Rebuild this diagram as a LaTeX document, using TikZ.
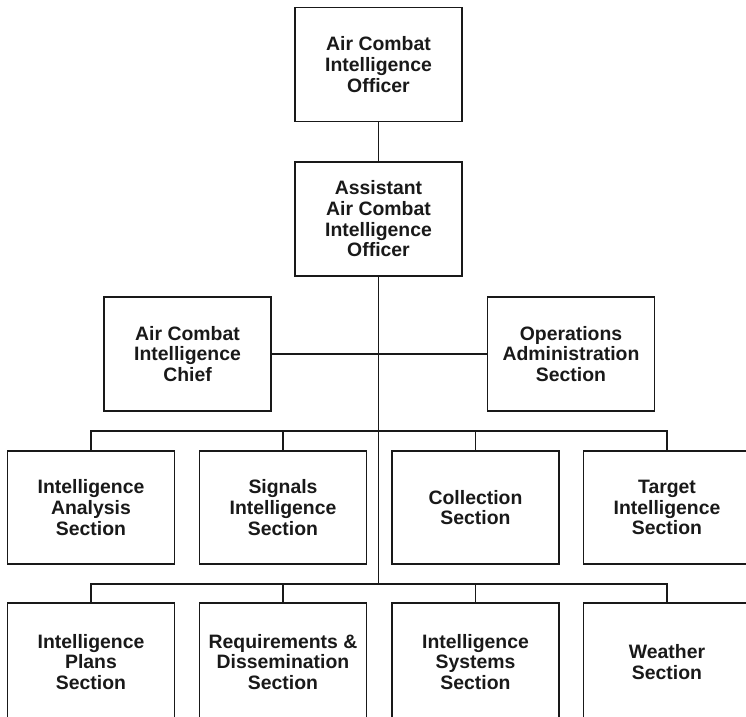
\documentclass[tikz,border=0pt]{standalone}
\usepackage{fontspec}
\setmainfont{Liberation Sans}
\begin{document}
\begin{tikzpicture}[x=1pt,y=-1pt,
  box/.style={draw=black!90, line width=1.7pt, fill=white, minimum width=167pt, minimum height=114pt,
    align=center, inner sep=0pt, text=black!90,
    font=\fontsize{19.4}{20.7}\selectfont\bfseries},
  conn/.style={draw=black!90, line width=1.7pt}]
\useasboundingbox (0,0) rectangle (746,716);
\clip (0,0) rectangle (746,716);
% nodes
\node[box] (aco) at (378.5,64.5) {Air Combat\\Intelligence\\Officer};
\node[box] (asst) at (378.5,219) {Assistant\\Air Combat\\Intelligence\\Officer};
\node[box] (chief) at (187.5,354) {Air Combat\\Intelligence\\Chief};
\node[box] (ops) at (571,354) {Operations\\Administration\\Section};
\node[box, minimum height=113pt] (ia) at (91,507.5) {Intelligence\\Analysis\\Section};
\node[box, minimum height=113pt] (si) at (283,507.5) {Signals\\Intelligence\\Section};
\node[box, minimum height=113pt] (col) at (475.5,507.5) {Collection\\Section};
\node[box, minimum height=113pt] (ti) at (667,507.5) {Target\\Intelligence\\Section};
\node[box, minimum height=118pt] (ip) at (91,662) {Intelligence\\Plans\\Section};
\node[box, minimum height=118pt] (rd) at (283,662) {Requirements \&\\Dissemination\\Section};
\node[box, minimum height=118pt] (is) at (475.5,662) {Intelligence\\Systems\\Section};
\node[box, minimum height=118pt] (ws) at (667,662) {Weather\\Section};
\coordinate (bus3) at (378.5,431);
\coordinate (bus4) at (378.5,584);
% connectors
\draw[conn] (aco) -- (asst);
\draw[conn] (asst.south) -- (bus4);
\draw[conn] (chief.east) -- (chief.east -| asst.south);
\draw[conn] (ops.west) -- (ops.west -| asst.south);
\draw[conn] (ia.north) |- (bus3) -| (ti.north);
\draw[conn] (si.north) -- (si.north |- bus3);
\draw[conn] (col.north) -- (col.north |- bus3);
\draw[conn] (ip.north) |- (bus4) -| (ws.north);
\draw[conn] (rd.north) -- (rd.north |- bus4);
\draw[conn] (is.north) -- (is.north |- bus4);
\end{tikzpicture}
\end{document}
